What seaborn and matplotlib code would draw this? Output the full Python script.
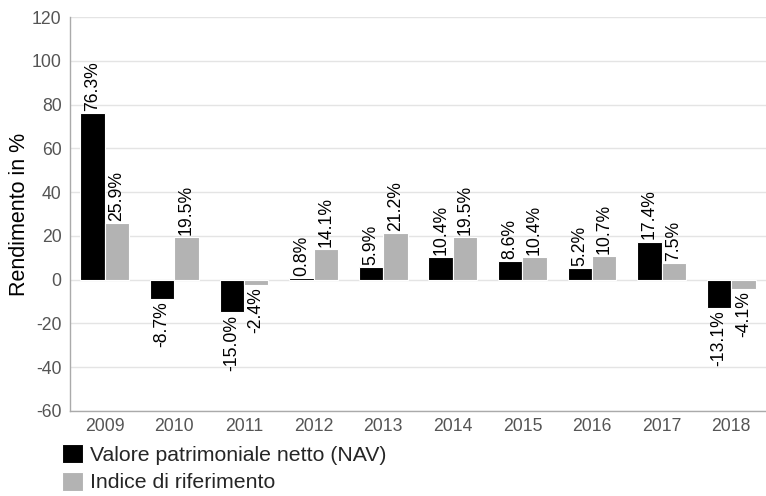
import matplotlib
matplotlib.use("Agg")
import matplotlib.pyplot as plt
import seaborn as sns
import pandas as pd

years = ["2009", "2010", "2011", "2012", "2013", "2014", "2015", "2016", "2017", "2018"]
nav = [76.3, -8.7, -15.0, 0.8, 5.9, 10.4, 8.6, 5.2, 17.4, -13.1]
index_vals = [25.9, 19.5, -2.4, 14.1, 21.2, 19.5, 10.4, 10.7, 7.5, -4.1]
series_names = ["Valore patrimoniale netto (NAV)", "Indice di riferimento"]
yticks = [-60, -40, -20, 0, 20, 40, 60, 80, 100, 120]

df = pd.DataFrame({
    "Anno": years * 2,
    "Valore": nav + index_vals,
    "Serie": [series_names[0]] * len(years) + [series_names[1]] * len(years),
})

sns.set_style("white")
plt.rcParams["font.family"] = ["Liberation Sans", "DejaVu Sans"]
plt.rcParams["axes.unicode_minus"] = False

fig = plt.figure(figsize=(7.66, 4.96), dpi=100)
ax = fig.add_axes([0.0914, 0.1714, 0.9086, 0.7943])

sns.barplot(data=df, x="Anno", y="Valore", hue="Serie", order=years,
            hue_order=series_names, palette=["#000000", "#b3b3b3"],
            width=0.7, edgecolor="white", linewidth=0.8, ax=ax,
            errorbar=None, legend=True)

ax.set_ylim(-60, 120)
ax.set_yticks(yticks)
ax.set_xlim(-0.5, len(years) - 0.5)
ax.yaxis.grid(True, color="#e4e4e4", linewidth=1)
ax.set_axisbelow(True)
for s in ["top", "right"]:
    ax.spines[s].set_visible(False)
for s in ["left", "bottom"]:
    ax.spines[s].set_color("#aaaaaa")
    ax.spines[s].set_linewidth(1)
ax.tick_params(axis="both", labelsize=12.7, length=0, labelcolor="#555555")
ax.tick_params(axis="x", pad=5)
ax.tick_params(axis="y", pad=6)
ax.set_xlabel("")
ax.set_ylabel("Rendimento in %", fontsize=15.5, color="#000000", labelpad=1)

for container in ax.containers:
    for bar in container:
        h = bar.get_height()
        x = bar.get_x() + bar.get_width() / 2
        txt = f"{h:.1f}%"
        if h >= 0:
            ax.annotate(txt, (x, h), xytext=(0, 1.5), textcoords="offset points",
                        rotation=90, ha="center", va="bottom", fontsize=12.7, color="#000000")
        else:
            ax.annotate(txt, (x, h), xytext=(0, -1.5), textcoords="offset points",
                        rotation=90, ha="center", va="top", fontsize=12.7, color="#000000")

leg = ax.legend(loc="upper left", bbox_to_anchor=(-0.0115, -0.085), frameon=False,
                fontsize=15.3, handlelength=1.0, handleheight=1.0, handletextpad=0.3,
                labelspacing=0.3, borderaxespad=0, borderpad=0)

fig.savefig("out.png", dpi=100)
